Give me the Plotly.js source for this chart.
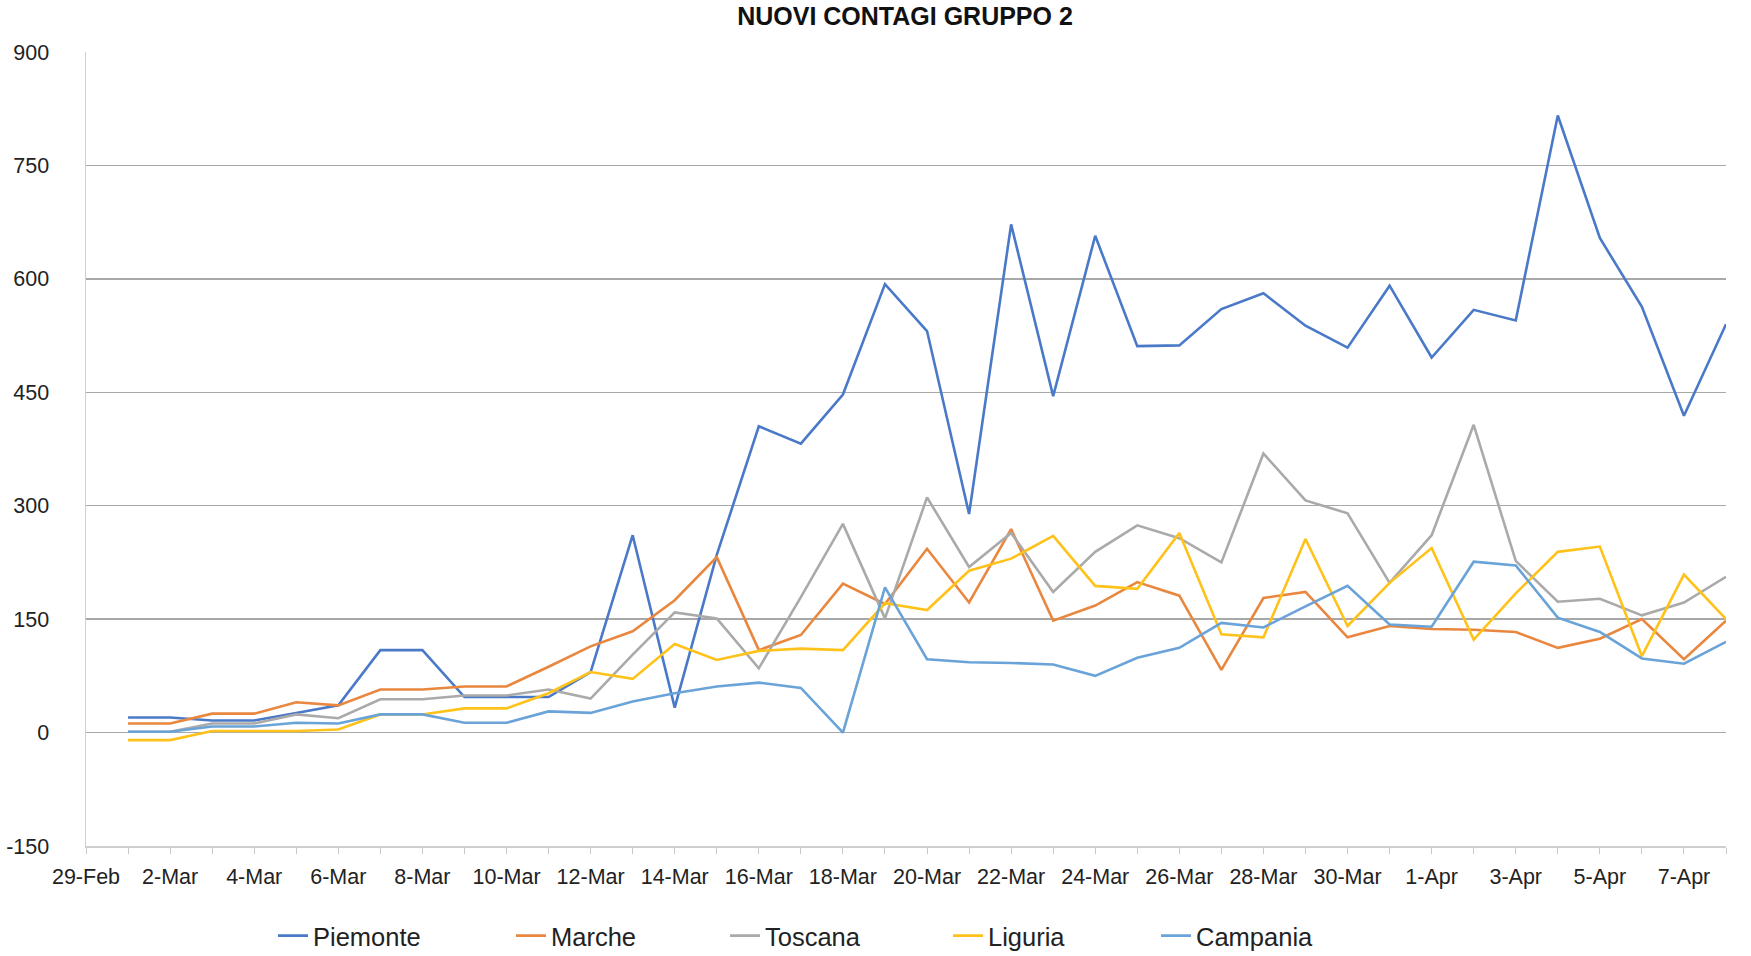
<!DOCTYPE html>
<html>
<head>
<meta charset="utf-8">
<script src="https://cdn.plot.ly/plotly-3.0.1.min.js"></script>
<style>
html,body{margin:0;padding:0;background:#fff;}
#chart{width:1751px;height:956px;}
</style>
</head>
<body>
<div id="chart"></div>
<script>
const dates = ['2020-03-01','2020-03-02','2020-03-03','2020-03-04','2020-03-05','2020-03-06','2020-03-07','2020-03-08','2020-03-09','2020-03-10',
'2020-03-11','2020-03-12','2020-03-13','2020-03-14','2020-03-15','2020-03-16','2020-03-17','2020-03-18','2020-03-19','2020-03-20',
'2020-03-21','2020-03-22','2020-03-23','2020-03-24','2020-03-25','2020-03-26','2020-03-27','2020-03-28','2020-03-29','2020-03-30',
'2020-03-31','2020-04-01','2020-04-02','2020-04-03','2020-04-04','2020-04-05','2020-04-06','2020-04-07','2020-04-08'];

const piemonte = [20,20,16,16,26,36,109,109,47,47,47,80,261,33,235,405,382,447,593,531,289,672,445,657,511,512,560,581,538,509,591,496,559,545,816,654,563,419,540];
const marche   = [12,12,25,25,40,36,57,57,61,61,87,114,134,175,232,109,129,197,170,243,172,269,148,168,199,181,83,178,186,126,141,137,136,133,112,124,150,97,148];
const toscana  = [1,1,12,12,24,19,44,44,49,49,57,45,103,159,151,85,179,276,151,311,219,264,186,239,274,257,225,369,307,290,198,261,407,227,173,177,155,172,206];
const liguria  = [-10,-10,2,2,2,4,24,24,32,32,52,80,71,117,96,108,111,109,171,162,214,230,260,194,190,264,130,126,256,141,198,244,123,184,239,246,101,209,150];
const campania = [1,1,8,8,13,12,24,24,13,13,28,26,41,52,61,66,59,0,192,97,93,92,90,75,99,112,145,139,167,194,143,140,226,221,152,133,98,91,120];

const tickVals = ['2020-02-29','2020-03-02','2020-03-04','2020-03-06','2020-03-08','2020-03-10','2020-03-12','2020-03-14','2020-03-16','2020-03-18',
'2020-03-20','2020-03-22','2020-03-24','2020-03-26','2020-03-28','2020-03-30','2020-04-01','2020-04-03','2020-04-05','2020-04-07'];
const tickLabels = ['29-Feb','2-Mar','4-Mar','6-Mar','8-Mar','10-Mar','12-Mar','14-Mar','16-Mar','18-Mar',
'20-Mar','22-Mar','24-Mar','26-Mar','28-Mar','30-Mar','1-Apr','3-Apr','5-Apr','7-Apr'];
const yTicks = [-150,0,150,300,450,600,750,900];

const names = ['Piemonte','Marche','Toscana','Liguria','Campania'];
const colors = ['#4A79C8','#E9873F','#AAAAAA','#FFC21A','#6AA3D8'];
const series = [piemonte, marche, toscana, liguria, campania];
const legendIds = ['legend','legend2','legend3','legend4','legend5'];
const legendX = [273, 511, 725, 948, 1156];

const traces = series.map((s,k)=>({
  x: dates, y: s, name: names[k], type:'scatter', mode:'lines',
  line:{color:colors[k], width:2.6},
  legend: legendIds[k]
}));

const FF = 'Liberation Sans, Arial, sans-serif';
const layout = {
  width:1751, height:956,
  paper_bgcolor:'#fff', plot_bgcolor:'#fff',
  margin:{l:86, r:25, t:52, b:110, pad:0},
  font: {family:FF, color:'#222'},
  showlegend:true,
  title:{text:'<b>NUOVI CONTAGI GRUPPO 2</b>', font:{family:FF, size:25, color:'#111'},
    x:905/1751, xanchor:'center', xref:'container', y:1-25/956, yanchor:'bottom', yref:'container'},
  xaxis:{
    type:'date', range:['2020-02-29','2020-04-08'],
    tickvals: tickVals, ticktext: tickLabels,
    ticks:'outside', ticklen:6, tickwidth:1, tickcolor:'#c8c8c8',
    minor:{dtick:86400000, tick0:'2020-02-29', ticks:'outside', ticklen:6, tickwidth:1, tickcolor:'#c8c8c8', showgrid:false},
    showgrid:false, showline:true, linecolor:'#cfcfcf', linewidth:1.5,
    tickfont:{family:FF, size:21.5, color:'#222'},
    ticklabelstandoff:5, zeroline:false, fixedrange:true
  },
  yaxis:{
    range:[-150,900], tickvals:yTicks, ticktext:yTicks.map(String),
    showgrid:true, gridcolor:'#a8a8a8', gridwidth:1.5,
    showline:true, linecolor:'#cfcfcf', linewidth:1.5,
    zeroline:false, ticks:'',
    tickfont:{family:FF, size:21.5, color:'#222'},
    ticklabelstandoff:31, fixedrange:true
  }
};
legendIds.forEach((id,k)=>{
  layout[id] = {orientation:'h', xref:'container', yref:'container', x:legendX[k]/1751, xanchor:'left',
    y:1-936/956, yanchor:'middle', bgcolor:'rgba(0,0,0,0)', borderwidth:0,
    font:{family:FF, size:25.5, color:'#222'}};
});
Plotly.newPlot('chart', traces, layout, {displayModeBar:false, staticPlot:true});
</script>
</body>
</html>
